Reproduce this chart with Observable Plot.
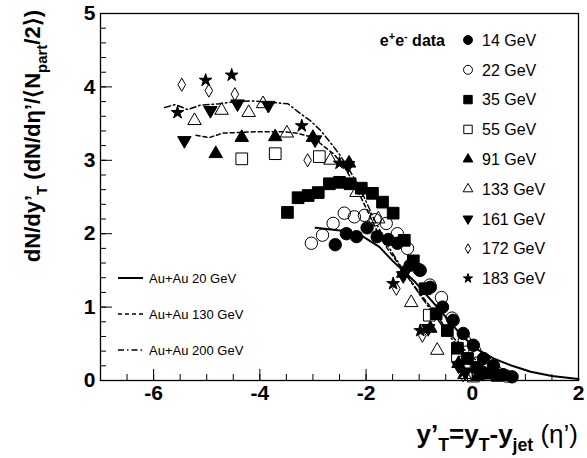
<!DOCTYPE html>
<html>
<head>
<meta charset="utf-8">
<script src="https://cdn.jsdelivr.net/npm/d3@7"></script>
<script src="https://cdn.jsdelivr.net/npm/@observablehq/plot@0.6"></script>
<style>
  body { margin: 0; background: #fff; }
  #chart svg { display: block; }
</style>
</head>
<body>
<div id="chart"></div>
<script>
// e+e- charged-particle spectra, dN/dy'_T vs y'_T, one array per energy ([y'_T, dN/dy'_T])
const ee14 = [[-2.58,1.85],[-2.37,2.00],[-2.18,1.96],[-1.98,2.08],[-1.79,1.96],[-1.58,1.92],[-1.41,1.87],[-1.17,1.57],[-0.98,1.50],[-0.79,1.27],[-0.56,1.00],[-0.36,0.82],[-0.17,0.64],[0.02,0.48],[0.21,0.30],[0.40,0.20],[0.58,0.08],[0.75,0.05]];
const ee22 = [[-3.03,1.87],[-2.82,1.98],[-2.62,2.14],[-2.41,2.28],[-2.22,2.23],[-2.03,2.25],[-1.83,2.19],[-1.62,2.14],[-1.41,2.00],[-1.22,1.80],[-1.00,1.51],[-0.80,1.30],[-0.58,1.13],[-0.38,0.85],[-0.15,0.55],[0.05,0.40],[0.25,0.25],[0.45,0.12],[0.65,0.06]];
const ee35 = [[-3.48,2.29],[-3.28,2.49],[-3.09,2.52],[-2.90,2.56],[-2.69,2.68],[-2.50,2.70],[-2.30,2.68],[-2.09,2.62],[-1.88,2.55],[-1.69,2.43],[-1.49,2.28],[-1.28,1.91],[-1.11,1.63],[-0.89,1.25],[-0.68,0.91],[-0.47,0.68],[-0.28,0.44],[-0.09,0.30],[0.09,0.18],[0.28,0.10],[0.47,0.07]];
const ee55 = [[-4.34,3.02],[-3.71,3.09],[-2.88,3.05],[-0.81,0.89],[-0.28,0.34],[-0.15,0.25],[0.02,0.06]];
const ee91 = [[-4.83,3.09],[-4.34,3.31],[-3.71,3.32],[-3.00,3.31],[-2.32,2.96],[-1.30,1.46],[-0.79,0.71],[-0.26,0.23],[0.10,0.06]];
const ee133 = [[-5.23,3.54],[-4.72,3.68],[-4.21,3.65],[-3.94,3.77],[-3.49,3.37],[-2.67,3.00],[-2.18,2.56],[-1.77,2.20],[-1.15,1.06],[-0.66,0.41],[-0.15,0.08]];
const ee161 = [[-5.42,3.27],[-4.93,3.68],[-4.42,3.77],[-3.84,3.75],[-2.96,3.28],[-2.34,2.93],[-1.30,1.43],[-0.83,0.71],[-0.26,0.20],[-0.13,0.11]];
const ee172 = [[-5.47,4.03],[-4.96,3.95],[-4.47,3.90],[-3.10,3.00],[-1.43,1.25],[-0.94,0.61],[-0.17,0.07]];
const ee183 = [[-5.55,3.65],[-5.02,4.09],[-4.53,4.16],[-3.21,3.47],[-2.50,2.96],[-1.49,1.32],[-0.98,0.68],[-0.17,0.11]];
const eeLabels = ["14 GeV","22 GeV","35 GeV","55 GeV","91 GeV","133 GeV","161 GeV","172 GeV","183 GeV"];

// Au+Au dN/deta'/<Npart/2> curves ([eta', value])
const auau20 = [[-2.95,2.08],[-2.45,2.04],[-2.10,1.98],[-1.75,1.82],[-1.50,1.63],[-1.10,1.36],[-0.66,1.00],[-0.28,0.68],[0.05,0.44],[0.40,0.30],[0.75,0.20],[1.10,0.12],[1.50,0.06],[2.00,0.02]];
const auau130 = [[-5.20,3.34],[-4.95,3.31],[-4.70,3.37],[-4.38,3.38],[-4.08,3.39],[-3.56,3.39],[-3.30,3.37],[-3.00,3.31],[-2.81,3.20],[-2.60,3.08],[-2.40,2.90],[-2.20,2.65],[-2.00,2.35],[-1.80,2.05],[-1.60,1.80],[-1.30,1.50],[-1.00,1.20],[-0.70,0.92],[-0.40,0.62],[-0.10,0.38],[0.20,0.20],[0.45,0.10]];
const auau200 = [[-5.79,3.72],[-5.59,3.76],[-5.36,3.69],[-5.13,3.75],[-4.76,3.77],[-4.57,3.79],[-4.17,3.81],[-3.47,3.77],[-3.26,3.65],[-3.05,3.54],[-2.86,3.41],[-2.67,3.24],[-2.49,3.07],[-2.34,2.90],[-2.10,2.60],[-1.85,2.20],[-1.60,1.85],[-1.30,1.50],[-1.00,1.18],[-0.70,0.88],[-0.40,0.58],[-0.10,0.32],[0.05,0.22]];
const auauLabels = ["Au+Au 20 GeV","Au+Au 130 GeV","Au+Au 200 GeV"];

// Axis ticks and labels
const xTicks = [-6, -4, -2, 0, 2];
const xTickLabels = ["-6", "-4", "-2", "0", "2"];
const yTicks = [0, 1, 2, 3, 4, 5];
const yTickLabels = ["0", "1", "2", "3", "4", "5"];
const xMinor = d3.range(-7, 2.001, 0.5);
const yMinor = d3.range(0, 5.001, 0.2);

const FONT = "'Liberation Sans', Arial, Helvetica, sans-serif";
const W = 587, H = 458;
const M = {left: 100, right: 9, top: 13, bottom: 78};
const plotW = W - M.left - M.right, plotH = H - M.top - M.bottom;

// Downward-pointing triangle symbol
const triangleDown = {
  draw(ctx, size) {
    const y = -Math.sqrt(size / (Math.sqrt(3) * 3));
    ctx.moveTo(0, -y * 2);
    ctx.lineTo(-Math.sqrt(3) * y, y);
    ctx.lineTo(Math.sqrt(3) * y, y);
    ctx.closePath();
  }
};

// Marker style for each energy, in legend order
const styles = [
  {symbol: d3.symbolCircle, filled: true, r: 6.2},
  {symbol: d3.symbolCircle, filled: false, r: 6.2},
  {symbol: d3.symbolSquare, filled: true, r: 6.6},
  {symbol: d3.symbolSquare, filled: false, r: 6.6},
  {symbol: d3.symbolTriangle, filled: true, r: 5.0},
  {symbol: d3.symbolTriangle, filled: false, r: 5.0},
  {symbol: triangleDown, filled: true, r: 5.0},
  {symbol: d3.symbolDiamond, filled: false, r: 4.0},
  {symbol: d3.symbolStar, filled: true, r: 4.0}
];
const series = [ee14, ee22, ee35, ee55, ee91, ee133, ee161, ee172, ee183];

const curves = [
  {data: auau20, dash: null, width: 2},
  {data: auau130, dash: "4,3", width: 1.5},
  {data: auau200, dash: "6,3,1.5,3", width: 1.5}
];

const dotMarks = series.map((s, k) => Plot.dot(s, {
  x: d => d[0], y: d => d[1],
  symbol: () => styles[k].symbol,
  r: styles[k].r,
  fill: styles[k].filled ? "#000" : "none",
  stroke: "#000",
  strokeWidth: 1
}));

const lineMarks = curves.map(c => Plot.line(c.data, {
  x: d => d[0], y: d => d[1],
  stroke: "#000",
  strokeWidth: c.width,
  strokeDasharray: c.dash
}));

const plot = Plot.plot({
  width: W, height: H,
  marginLeft: M.left, marginRight: M.right, marginTop: M.top, marginBottom: M.bottom,
  x: {domain: [-7, 2], axis: null},
  y: {domain: [0, 5], axis: null},
  style: {fontFamily: FONT, background: "#fff", color: "#000", overflow: "visible"},
  marks: [
    ...lineMarks,
    ...dotMarks,
    Plot.tickX(xMinor, {x: d => d, insetTop: plotH - 6, stroke: "#000"}),
    Plot.tickX(xTicks, {x: d => d, insetTop: plotH - 11, stroke: "#000"}),
    Plot.tickY(yMinor, {y: d => d, insetRight: plotW - 6, stroke: "#000"}),
    Plot.tickY(yTicks, {y: d => d, insetRight: plotW - 12, stroke: "#000"}),
    Plot.frame({stroke: "#000", strokeWidth: 1.3}),
    Plot.text(xTicks, {x: d => d, text: (d, i) => xTickLabels[i], frameAnchor: "bottom", dy: 19,
      fontSize: 21, fontWeight: "bold", fill: "#000"}),
    Plot.text(yTicks, {y: d => d, text: (d, i) => yTickLabels[i], frameAnchor: "left", dx: -5,
      textAnchor: "end", fontSize: 21, fontWeight: "bold", fill: "#000"})
  ]
});

document.getElementById("chart").appendChild(plot);

// Titles and legends drawn on top of the plot
const svg = d3.select(plot);
const g = svg.append("g").attr("font-family", FONT).attr("fill", "#000").attr("text-anchor", "start");

// Appends text pieces, shifting subscripts down and superscripts up
function richText(sel, parts, size) {
  let shift = 0;
  parts.forEach(([t, kind, weight]) => {
    const target = kind === "sub" ? size * 0.3 : kind === "sup" ? -size * 0.4 : 0;
    const span = sel.append("tspan").text(t);
    if (target - shift !== 0) span.attr("dy", target - shift);
    if (kind) span.attr("font-size", size * 0.68);
    if (weight) span.attr("font-weight", weight);
    shift = target;
  });
}

// x-axis title
const xt = g.append("text")
  .attr("x", M.left + plotW).attr("y", 443)
  .attr("text-anchor", "end").attr("font-size", 26).attr("font-weight", "bold");
richText(xt, [["y\u2019"], ["T", "sub"], ["=y"], ["T", "sub"], ["-y"], ["jet", "sub"], [" (\u03B7\u2019)", "", "normal"]], 26);

// y-axis title
const yt = g.append("text")
  .attr("transform", "translate(40,10) rotate(-90)")
  .attr("text-anchor", "end").attr("font-size", 22).attr("font-weight", "bold");
richText(yt, [["dN/dy\u2019"], ["T", "sub"], [" (dN/d\u03B7\u2019/\u27E8N"], ["part", "sub"], ["/2\u27E9)"]], 22);

// e+e- heading
const eh = g.append("text")
  .attr("x", 445).attr("y", 46)
  .attr("text-anchor", "end").attr("font-size", 16).attr("font-weight", "bold");
richText(eh, [["e"], ["+", "sup"], ["e"], ["-", "sup"], [" data"]], 16);

// e+e- legend
const legY0 = 40, legStep = 29.8;
eeLabels.forEach((lab, k) => {
  const yy = legY0 + k * legStep;
  const st = styles[k];
  g.append("path")
    .attr("transform", `translate(468,${yy})`)
    .attr("d", d3.symbol(st.symbol, Math.PI * (st.r * 0.72) ** 2)())
    .attr("fill", st.filled ? "#000" : "none")
    .attr("stroke", "#000").attr("stroke-width", 1);
  g.append("text").attr("x", 482).attr("y", yy).attr("dy", "0.36em")
    .attr("font-size", 16).text(lab);
});

// Au+Au legend
const auY = [278, 314, 350];
auauLabels.forEach((lab, k) => {
  const c = curves[k];
  g.append("line")
    .attr("x1", 118).attr("x2", 143).attr("y1", auY[k]).attr("y2", auY[k])
    .attr("stroke", "#000").attr("stroke-width", c.width)
    .attr("stroke-dasharray", c.dash);
  g.append("text").attr("x", 149).attr("y", auY[k]).attr("dy", "0.36em")
    .attr("font-size", 13).text(lab);
});
</script>
</body>
</html>
